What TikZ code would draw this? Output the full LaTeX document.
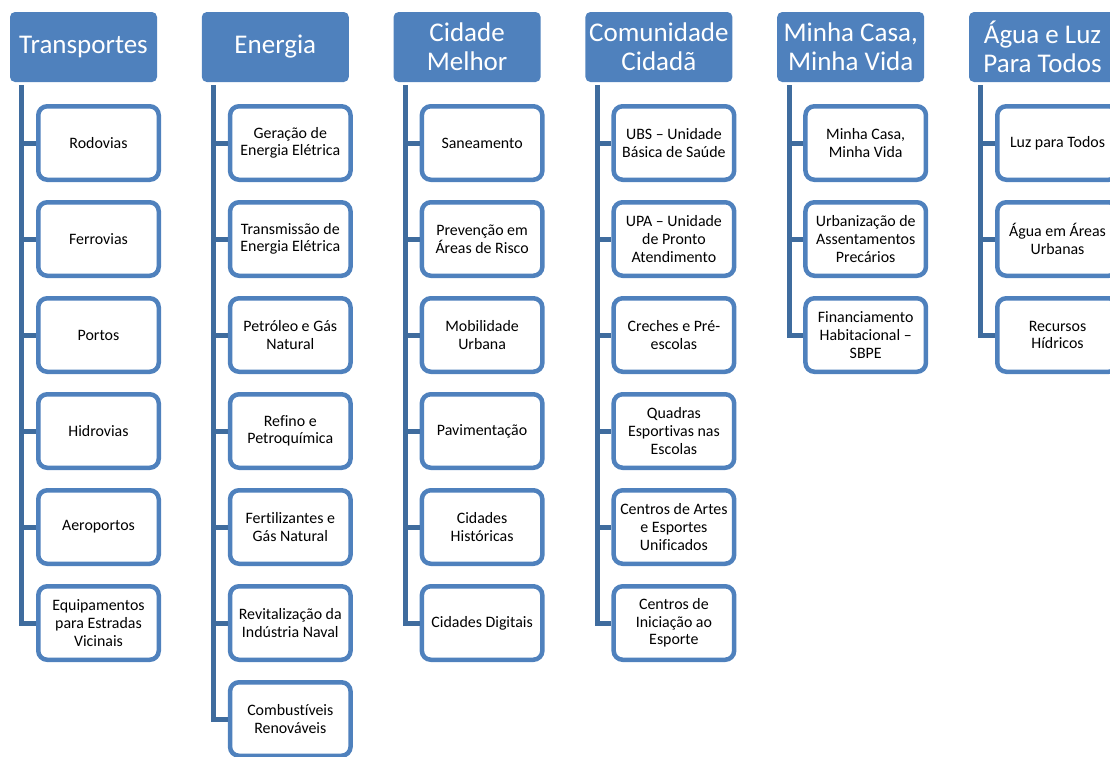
\documentclass[tikz,border=0pt]{standalone}
\usepackage{fontspec}
\setmainfont{Carlito}[Ligatures=NoCommon]
\usetikzlibrary{trees}
\definecolor{headblue}{HTML}{4F81BD}
\definecolor{linkblue}{HTML}{3F6C9E}
\begin{document}
\begin{tikzpicture}[x=1pt,y=1pt,
  head/.style={rectangle,rounded corners=5pt,fill=headblue,text=white,
    minimum width=147pt,minimum height=70pt,align=center,
    font=\fontsize{27}{29}\selectfont},
  item/.style={rectangle,rounded corners=9pt,draw=headblue,line width=4.5pt,
    fill=white,text=black,minimum width=120.5pt,minimum height=73.5pt,
    align=center,font=\fontsize{15.9}{17.6}\selectfont},
  grow via three points={one child at (15,-96) and two children at (15,-96) and (15,-192)},
  edge from parent/.style={draw=linkblue,line width=5pt},
  edge from parent path={([xshift=12pt,yshift=-3pt]\tikzparentnode.south west) |- (\tikzchildnode.west)}]
\useasboundingbox (0,0) rectangle (1110,-756);
\clip (0,0) rectangle (1110,-756);
\node [head] (tra) at (83.5,-47) {Transportes}
  child { node [item] (tra1) {Rodovias} }
  child { node [item] (tra2) {Ferrovias} }
  child { node [item] (tra3) {Portos} }
  child { node [item] (tra4) {Hidrovias} }
  child { node [item] (tra5) {Aeroportos} }
  child { node [item] (tra6) {Equipamentos\\para Estradas\\Vicinais} };
\node [head] (ene) at (275.3,-47) {Energia}
  child { node [item] (ene1) {Geração de\\Energia Elétrica} }
  child { node [item] (ene2) {Transmissão de\\Energia Elétrica} }
  child { node [item] (ene3) {Petróleo e Gás\\Natural} }
  child { node [item] (ene4) {Refino e\\Petroquímica} }
  child { node [item] (ene5) {Fertilizantes e\\Gás Natural} }
  child { node [item] (ene6) {Revitalização da\\Indústria Naval} }
  child { node [item] (ene7) {Combustíveis\\Renováveis} };
\node [head] (cid) at (467.1,-47) {Cidade\\Melhor}
  child { node [item] (cid1) {Saneamento} }
  child { node [item] (cid2) {Prevenção em\\Áreas de Risco} }
  child { node [item] (cid3) {Mobilidade\\Urbana} }
  child { node [item] (cid4) {Pavimentação} }
  child { node [item] (cid5) {Cidades\\Históricas} }
  child { node [item] (cid6) {Cidades Digitais} };
\node [head] (com) at (658.9,-47) {Comunidade\\Cidadã}
  child { node [item] (com1) {UBS -- Unidade\\Básica de Saúde} }
  child { node [item] (com2) {UPA -- Unidade\\de Pronto\\Atendimento} }
  child { node [item] (com3) {Creches e Pré-\\escolas} }
  child { node [item] (com4) {Quadras\\Esportivas nas\\Escolas} }
  child { node [item] (com5) {Centros de Artes\\e Esportes\\Unificados} }
  child { node [item] (com6) {Centros de\\Iniciação ao\\Esporte} };
\node [head] (mcm) at (850.7,-47) {Minha Casa,\\Minha Vida}
  child { node [item] (mcm1) {Minha Casa,\\Minha Vida} }
  child { node [item] (mcm2) {Urbanização de\\Assentamentos\\Precários} }
  child { node [item] (mcm3) {Financiamento\\Habitacional --\\SBPE} };
\node [head] (agu) at (1042.5,-47) {Água e Luz\\Para Todos}
  child { node [item] (agu1) {Luz para Todos} }
  child { node [item] (agu2) {Água em Áreas\\Urbanas} }
  child { node [item] (agu3) {Recursos\\Hídricos} };
\end{tikzpicture}
\end{document}
